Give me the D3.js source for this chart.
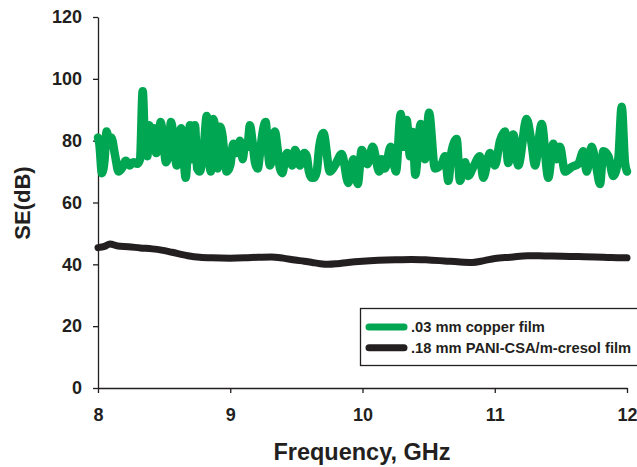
<!DOCTYPE html>
<html><head><meta charset="utf-8">
<script src="https://cdn.jsdelivr.net/npm/d3@7"></script>
<style>
body{margin:0;background:#fff}
text{font-family:Arial,"Liberation Sans",sans-serif;font-weight:bold;fill:#231f20}
</style>
</head><body>
<svg id="chart" width="637" height="467"></svg>
<script>
const copperFreq = [8.000,8.010,8.030,8.050,8.065,8.083,8.100,8.130,8.155,8.180,8.210,8.240,8.267,8.297,8.318,8.338,8.358,8.373,8.388,8.406,8.423,8.440,8.454,8.474,8.494,8.514,8.532,8.552,8.569,8.595,8.612,8.628,8.645,8.663,8.678,8.696,8.713,8.733,8.750,8.771,8.789,8.804,8.822,8.839,8.854,8.872,8.890,8.905,8.922,8.940,8.955,8.973,9.000,9.023,9.049,9.074,9.094,9.111,9.129,9.149,9.167,9.187,9.207,9.230,9.250,9.268,9.283,9.300,9.318,9.338,9.356,9.376,9.394,9.414,9.431,9.452,9.469,9.490,9.507,9.527,9.545,9.560,9.578,9.595,9.616,9.633,9.654,9.673,9.704,9.754,9.792,9.843,9.893,9.931,9.964,9.994,10.037,10.077,10.127,10.145,10.170,10.213,10.253,10.289,10.309,10.334,10.359,10.380,10.399,10.440,10.473,10.503,10.548,10.599,10.624,10.649,10.674,10.712,10.737,10.775,10.800,10.838,10.888,10.913,10.964,11.002,11.040,11.077,11.102,11.140,11.178,11.241,11.279,11.304,11.355,11.405,11.443,11.468,11.493,11.531,11.582,11.632,11.670,11.695,11.733,11.766,11.796,11.821,11.859,11.896,11.934,11.960,11.985,12.000];
const copperSE = [81,79,69.5,74,83,80,81,75,70,71,73.5,72,73,72.5,74,96,76,75,85,80,84,76,78,86,80,73,75,86,82,72,80,84,76,68,76,85,74,85,71,70,74,80,88,75,70,87,82,71,84.5,82,76,70,72,79,76,80,74,79,78,85,80,73,71,78,84,86,78,72,75,83,78,71,69.5,74,76,74,72,77,75,72,75,76,75,70,68,68,70,78,82.5,70,72,75.7,66.3,74,66,77,72.4,78,70,74,71,78,70,88.6,78,86.7,75,82.8,69,85.4,74,89,71,72.5,75,67,76.6,80.5,67,73,68.6,71.5,75,68,76,72,80,83,72.8,82,72,87,79,72,85.4,68,79,74,78,70,71.5,72.5,76.6,70,78,72,66,76.6,75,68.6,74,91,72.8,70];
const paniFreq = [8.00,8.05,8.09,8.15,8.23,8.32,8.41,8.48,8.56,8.68,8.77,8.86,9.00,9.11,9.21,9.31,9.40,9.49,9.56,9.62,9.68,9.74,9.81,9.89,10.00,10.12,10.25,10.37,10.50,10.62,10.72,10.83,10.92,11.00,11.12,11.25,11.38,11.51,11.63,11.76,11.88,12.00];
const paniSE = [45.4,45.8,46.6,45.9,45.7,45.3,45.0,44.6,43.9,42.8,42.3,42.1,42.0,42.1,42.3,42.4,42.0,41.4,41.0,40.6,40.2,40.0,40.2,40.6,41.0,41.3,41.5,41.6,41.4,41.1,40.8,40.6,41.2,41.9,42.3,42.8,42.7,42.6,42.5,42.4,42.2,42.1];
const xTicks = [8,9,10,11,12];
const yTicks = [0,20,40,60,80,100,120];
const seriesNames = [".03 mm copper film", ".18 mm PANI-CSA/m-cresol film"];
const xTitle = "Frequency, GHz";
const yTitle = "SE(dB)";

const GREEN = "#00a651", BLACK = "#231f20";
const svg = d3.select("#chart");
const x = d3.scaleLinear().domain([8,12]).range([98,627]);
const y = d3.scaleLinear().domain([0,120]).range([388,17]);

const xAxis = svg.append("g").attr("transform","translate(0,388)")
  .call(d3.axisBottom(x).tickValues(xTicks).tickFormat(d3.format("d")).tickSize(5).tickSizeOuter(0).tickPadding(15));
const yAxis = svg.append("g").attr("transform","translate(98,0)")
  .call(d3.axisLeft(y).tickValues(yTicks).tickFormat(d3.format("d")).tickSize(5).tickSizeOuter(0).tickPadding(11));
[xAxis,yAxis].forEach(a=>{
  a.selectAll("path,line").attr("stroke",BLACK).attr("stroke-width",1.3);
  a.selectAll("text").attr("font-size",18).attr("font-family","Arial, 'Liberation Sans', sans-serif").attr("font-weight","bold").attr("fill",BLACK);
});

const line = d3.line().x(d=>x(d[0])).y(d=>y(d[1])).curve(d3.curveMonotoneX);
const copper = copperFreq.map((f,i)=>[f,copperSE[i]]);
const pani = paniFreq.map((f,i)=>[f,paniSE[i]]);

svg.append("path").datum(pani).attr("d",line).attr("fill","none")
  .attr("stroke",BLACK).attr("stroke-width",7).attr("stroke-linejoin","round").attr("stroke-linecap","round");
svg.append("path").datum(copper).attr("d",line).attr("fill","none")
  .attr("stroke",GREEN).attr("stroke-width",8.5).attr("stroke-linejoin","round").attr("stroke-linecap","round");

svg.append("text").attr("x",362).attr("y",460).attr("text-anchor","middle").attr("font-size",23.5).text(xTitle);
svg.append("text").attr("transform","translate(30,203) rotate(-90)").attr("text-anchor","middle").attr("font-size",22).text(yTitle);

// legend
const lg = svg.append("g");
lg.append("rect").attr("x",360.5).attr("y",308.5).attr("width",290).attr("height",57)
  .attr("fill","#fff").attr("stroke",BLACK).attr("stroke-width",1.3);
const colors = [GREEN,BLACK];
seriesNames.forEach((name,i)=>{
  const yy = 327 + i*20.7;
  lg.append("line").attr("x1",369).attr("x2",404).attr("y1",yy).attr("y2",yy)
    .attr("stroke",colors[i]).attr("stroke-width",7).attr("stroke-linecap","round");
  lg.append("text").attr("x",411).attr("y",yy+5).attr("font-size",14.7).text(name);
});
</script>
</body></html>
